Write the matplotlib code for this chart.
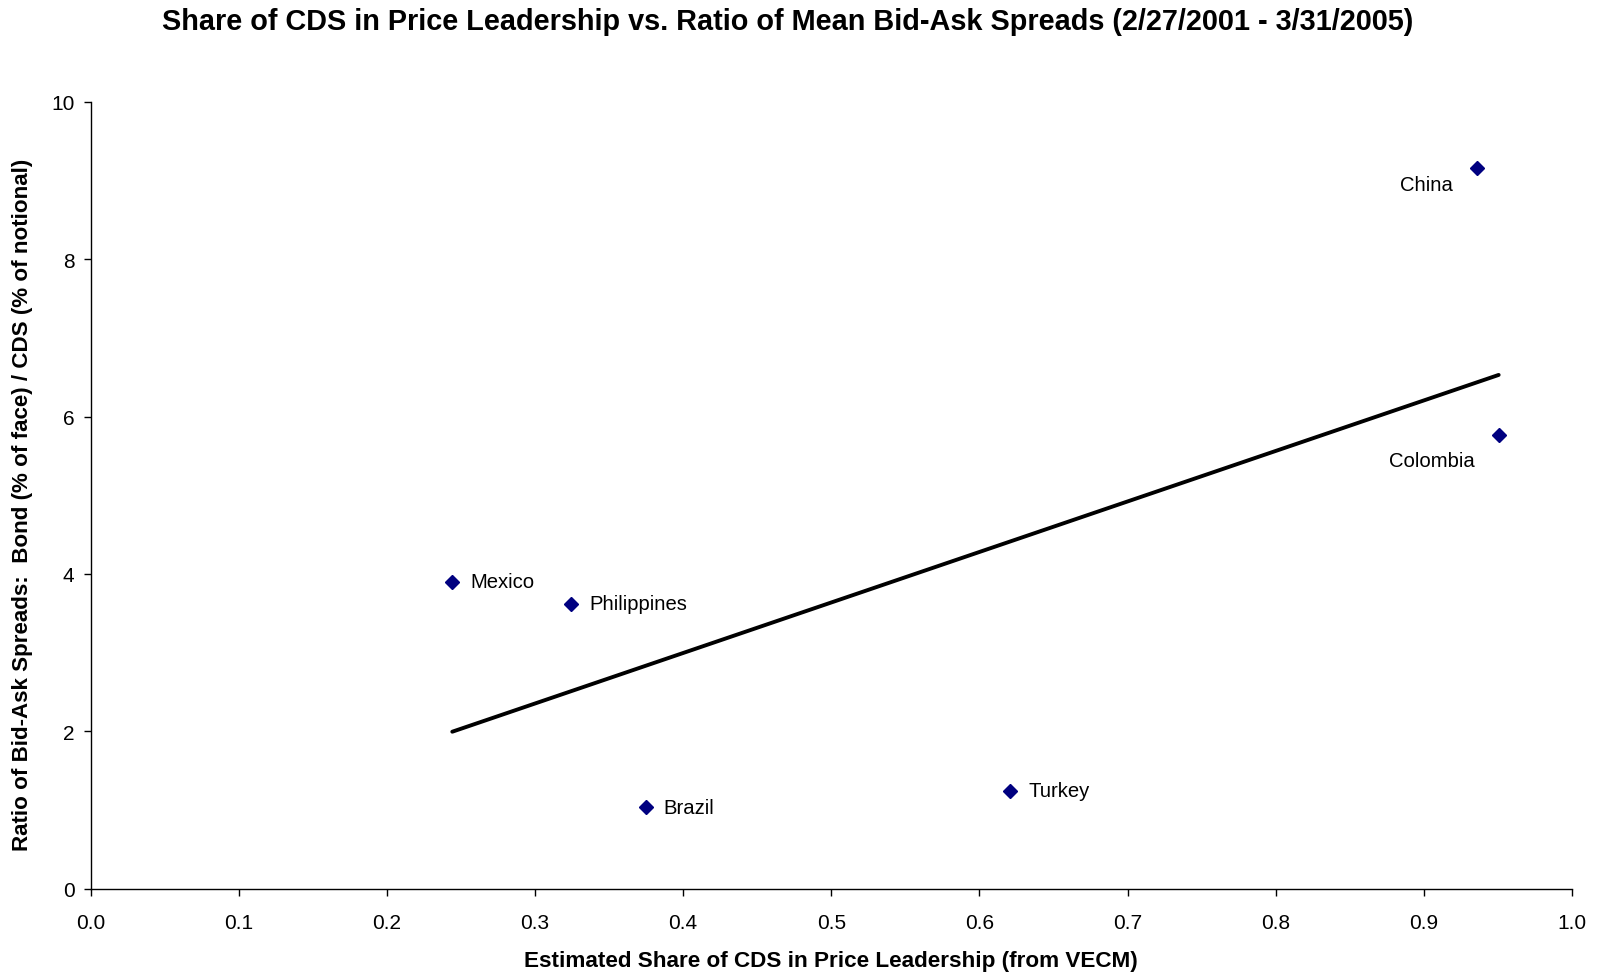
import numpy as np
import matplotlib
matplotlib.use("Agg")
import matplotlib.pyplot as plt

# Data
countries = ["China", "Colombia", "Mexico", "Philippines", "Brazil", "Turkey"]
cds_share = [0.9357, 0.9505, 0.2442, 0.3243, 0.3747, 0.6208]
spread_ratio = [9.16, 5.76, 3.90, 3.62, 1.03, 1.24]
x_ticks = [0.0, 0.1, 0.2, 0.3, 0.4, 0.5, 0.6, 0.7, 0.8, 0.9, 1.0]
y_ticks = [0, 2, 4, 6, 8, 10]

# label offsets in points (dx, dy, ha)
label_offsets = {
    "China": (-17, -12, "right"),
    "Colombia": (-17, -18, "right"),
    "Mexico": (13, 0, "left"),
    "Philippines": (13, 0, "left"),
    "Brazil": (13, 0, "left"),
    "Turkey": (13, 0, "left"),
}

plt.rcParams['font.family'] = ['Liberation Sans', 'DejaVu Sans']

fig = plt.figure(figsize=(16, 9.78), dpi=100)
ax = fig.add_axes([90.5 / 1600, 1 - 889.5 / 978, (1572 - 90.5) / 1600, (889.5 - 103) / 978])

# trendline (linear least squares fit)
xs = np.array(cds_share)
ys = np.array(spread_ratio)
slope, intercept = np.polyfit(xs, ys, 1)
xl = np.array([xs.min(), xs.max()])
ax.plot(xl, slope * xl + intercept, color="black", lw=2.8, solid_capstyle="round", zorder=2)

ax.plot(cds_share, spread_ratio, linestyle="none", marker="D", markersize=7,
        color="#000080", zorder=3)

for name, x, y in zip(countries, cds_share, spread_ratio):
    dx, dy, ha = label_offsets[name]
    ax.annotate(name, (x, y), xytext=(dx, dy), textcoords="offset points",
                ha=ha, va="center", fontsize=14.6, color="black")

ax.set_xlim(0, 1)
ax.set_ylim(0, 10)
ax.set_xticks(x_ticks)
ax.set_xticklabels([f"{t:.1f}" for t in x_ticks])
ax.set_yticks(y_ticks)
ax.set_yticklabels([str(t) for t in y_ticks])
ax.tick_params(axis="both", direction="out", length=5, width=1, labelsize=15, color="black")
ax.tick_params(axis="y", pad=6.5)
ax.tick_params(axis="x", pad=13)
for s in ["top", "right"]:
    ax.spines[s].set_visible(False)
for s in ["left", "bottom"]:
    ax.spines[s].set_linewidth(1)
    ax.spines[s].set_color("black")

fig.text(788 / 1600, 1 - 21.5 / 978,
         "Share of CDS in Price Leadership vs. Ratio of Mean Bid-Ask Spreads (2/27/2001 - 3/31/2005)",
         ha="center", va="center", fontsize=20.8, fontweight="bold")
fig.text(831 / 1600, 1 - 962 / 978,
         "Estimated Share of CDS in Price Leadership (from VECM)",
         ha="center", va="center", fontsize=16.2, fontweight="bold")
fig.text(23 / 1600, 1 - 505 / 978,
         "Ratio of Bid-Ask Spreads:  Bond (% of face) / CDS (% of notional)",
         ha="center", va="center", rotation=90, fontsize=16.1, fontweight="bold")

fig.savefig("out.png", dpi=100, facecolor="white")
